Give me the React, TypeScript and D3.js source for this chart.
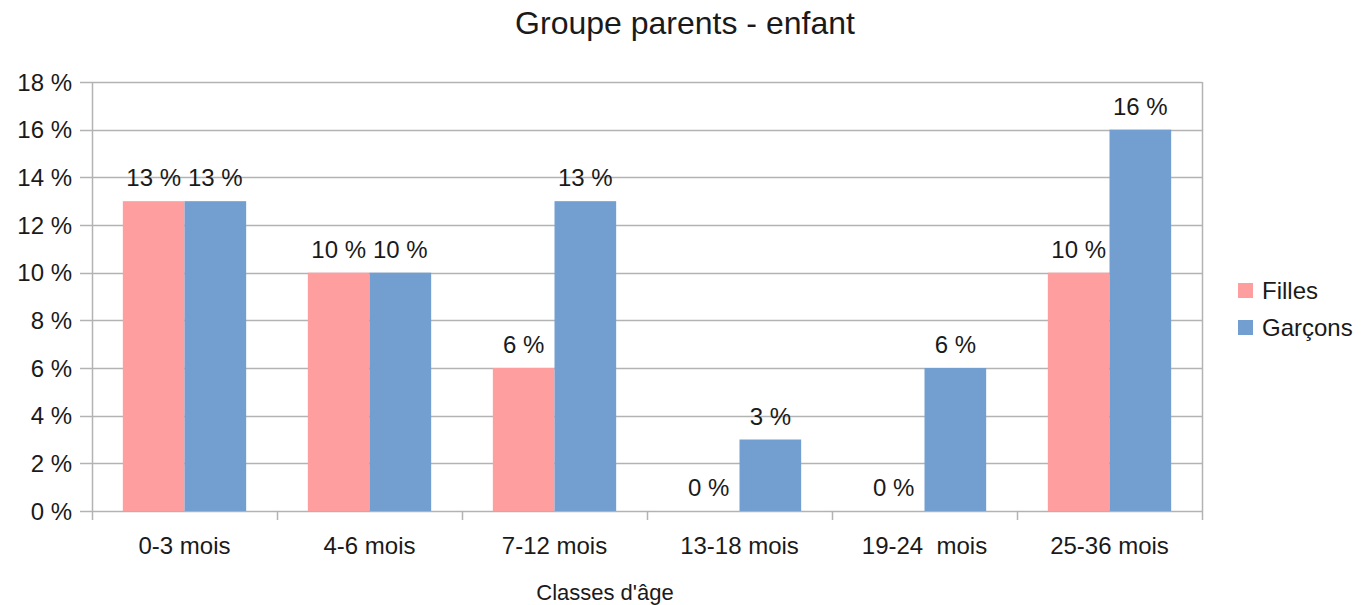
import { useEffect, useRef } from 'react'
import * as d3 from 'd3'

const categories = ['0-3 mois', '4-6 mois', '7-12 mois', '13-18 mois', '19-24  mois', '25-36 mois']
const seriesNames = ['Filles', 'Garçons']
const filles = [13, 10, 6, 0, 0, 10]
const garcons = [13, 10, 13, 3, 6, 16]
const yTicks = [0, 2, 4, 6, 8, 10, 12, 14, 16, 18]
const colors = ['#ff9e9e', '#729fcf']

export default function App() {
  const ref = useRef<SVGSVGElement | null>(null)

  useEffect(() => {
    if (!ref.current) return
    const svg = d3.select(ref.current)
    svg.selectAll('*').remove()

    const width = 1361
    const height = 605
    const margin = { top: 82, right: 159, bottom: 94, left: 92 }
    const font = '"Liberation Sans", Arial, sans-serif'
    const txt = '#1a1a1a'

    const x = d3.scaleBand().domain(categories).range([margin.left, width - margin.right]).padding(0)
    const inner = d3.scaleBand().domain(seriesNames).range([0, x.bandwidth()]).paddingOuter(0.5).paddingInner(0)
    const y = d3.scaleLinear().domain([0, 18]).range([height - margin.bottom, margin.top])

    svg.append('rect').attr('width', width).attr('height', height).attr('fill', '#fff')

    // Title
    svg.append('text').attr('x', 685).attr('y', 34).attr('text-anchor', 'middle')
      .style('font-family', font).style('font-size', '32px').attr('fill', txt).text('Groupe parents - enfant')

    // Grid lines
    svg.append('g').selectAll('line').data(yTicks).join('line')
      .attr('x1', margin.left - 12).attr('x2', width - margin.right)
      .attr('y1', d => Math.round(y(d)) + 0.5).attr('y2', d => Math.round(y(d)) + 0.5)
      .attr('stroke', '#b3b3b3').attr('stroke-width', 1.5)

    // Y labels
    svg.append('g').selectAll('text').data(yTicks).join('text')
      .attr('x', margin.left - 20).attr('y', d => y(d) + 8.5).attr('text-anchor', 'end')
      .style('font-family', font).style('font-size', '24px').attr('fill', txt)
      .text(d => `${d} %`)

    // Bars
    const data = [filles, garcons]
    data.forEach((vals, si) => {
      svg.append('g').selectAll('rect').data(vals).join('rect')
        .attr('x', (_, i) => x(categories[i])! + inner(seriesNames[si])!)
        .attr('width', inner.bandwidth())
        .attr('y', d => y(d))
        .attr('height', d => y(0) - y(d))
        .attr('fill', colors[si])
      svg.append('g').selectAll('text').data(vals).join('text')
        .attr('x', (_, i) => x(categories[i])! + inner(seriesNames[si])! + inner.bandwidth() / 2)
        .attr('y', d => y(d) - 15)
        .attr('text-anchor', 'middle')
        .style('font-family', font).style('font-size', '24px').attr('fill', txt)
        .text(d => `${d} %`)
    })

    // Axes lines
    svg.append('line').attr('x1', margin.left + 0.5).attr('x2', margin.left + 0.5)
      .attr('y1', margin.top).attr('y2', y(0) + 9).attr('stroke', '#b3b3b3').attr('stroke-width', 1.5)
    svg.append('line').attr('x1', width - margin.right + 0.5).attr('x2', width - margin.right + 0.5)
      .attr('y1', margin.top).attr('y2', y(0) + 9).attr('stroke', '#b3b3b3').attr('stroke-width', 1.5)
    svg.append('g').selectAll('line').data(categories.slice(1)).join('line')
      .attr('x1', d => x(d)! + 0.5).attr('x2', d => x(d)! + 0.5)
      .attr('y1', y(0)).attr('y2', y(0) + 9).attr('stroke', '#b3b3b3').attr('stroke-width', 1.5)

    // X labels
    svg.append('g').selectAll('text').data(categories).join('text')
      .attr('x', d => x(d)! + x.bandwidth() / 2).attr('y', 554).attr('text-anchor', 'middle')
      .style('font-family', font).style('font-size', '24px').attr('fill', txt)
      .style('white-space', 'pre')
      .text(d => d)

    svg.append('text').attr('x', 605).attr('y', 600).attr('text-anchor', 'middle')
      .style('font-family', font).style('font-size', '22px').attr('fill', txt).text("Classes d'âge")

    // Legend
    const legend = svg.append('g').attr('transform', 'translate(1238, 283)')
    seriesNames.forEach((name, i) => {
      const row = legend.append('g').attr('transform', `translate(0, ${i * 37})`)
      row.append('rect').attr('width', 15).attr('height', 15).attr('fill', colors[i])
      row.append('text').attr('x', 24).attr('y', 16).style('font-family', font).style('font-size', '24px')
        .attr('fill', txt).text(name)
    })
  }, [])

  return <svg ref={ref} width={1361} height={605} style={{ display: 'block', position: 'absolute', left: 0, top: 0 }} />
}
